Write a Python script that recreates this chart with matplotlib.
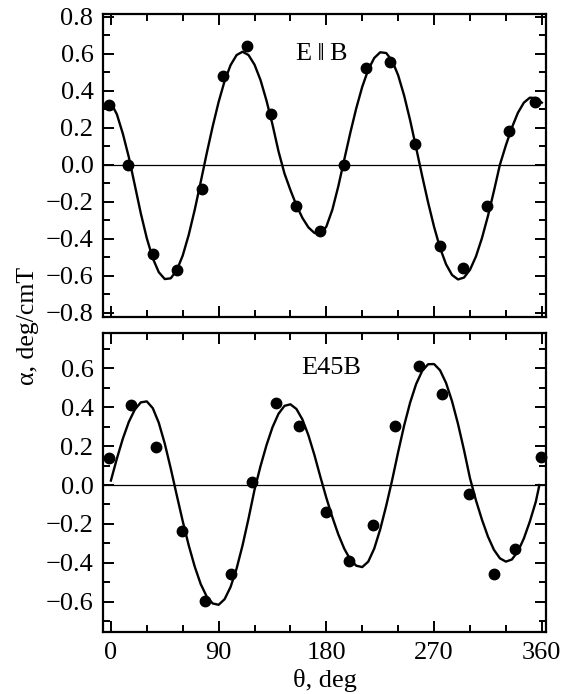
import numpy as np
import matplotlib
matplotlib.use('Agg')
from matplotlib import pyplot as plt
from matplotlib.ticker import MultipleLocator, FuncFormatter

plt.rcParams['font.family'] = ['Liberation Serif', 'DejaVu Serif']

# E||B : measured points
top_theta = [-2, 14.5, 35.5, 55, 76, 93.5, 114, 134, 155, 174.5, 195, 213, 233, 254, 275, 294, 314, 333, 354]
top_alpha = [0.32, 0.0, -0.48, -0.57, -0.13, 0.48, 0.64, 0.275, -0.225, -0.36, 0.0, 0.52, 0.555, 0.11,
             -0.44, -0.555, -0.22, 0.18, 0.34]

# E||B : fit curve, read every 5 deg
fit_theta = list(range(0, 361, 5))
top_fit = [0.335, 0.272, 0.167, 0.040, -0.111, -0.263, -0.397, -0.505, -0.580, -0.617,
           -0.613, -0.570, -0.490, -0.379, -0.244, -0.094, 0.060, 0.206, 0.339, 0.452,
           0.538, 0.592, 0.610, 0.592, 0.540, 0.457, 0.346, 0.217, 0.073, -0.047,
           -0.137, -0.219, -0.287, -0.338, -0.368, -0.374, -0.334, -0.243, -0.116, 0.029,
           0.172, 0.305, 0.421, 0.513, 0.576, 0.607, 0.603, 0.561, 0.483, 0.373,
           0.240, 0.092, -0.059, -0.203, -0.335, -0.449, -0.537, -0.595, -0.619, -0.609,
           -0.567, -0.495, -0.396, -0.277, -0.142, 0.0, 0.105, 0.200, 0.280, 0.335,
           0.362, 0.360, 0.335]

# E45B : measured points
bot_theta = [-2, 17, 38, 59, 79, 100, 118, 138, 157, 180, 199, 219, 237.5, 257, 277, 299, 320, 338, 359]
bot_alpha = [0.137, 0.411, 0.194, -0.236, -0.595, -0.458, 0.014, 0.423, 0.305, -0.14, -0.389, -0.206,
             0.305, 0.613, 0.468, -0.046, -0.458, -0.327, 0.146]

# E45B : fit curve, read every 5 deg (last point at 358)
bot_fit_theta = list(range(0, 356, 5)) + [358]
bot_fit = [0.023, 0.136, 0.239, 0.325, 0.388, 0.425, 0.430, 0.395, 0.320, 0.213,
           0.085, -0.052, -0.186, -0.310, -0.419, -0.509, -0.573, -0.609, -0.616, -0.587,
           -0.524, -0.430, -0.310, -0.172, -0.024, 0.097, 0.205, 0.297, 0.366, 0.407,
           0.415, 0.391, 0.337, 0.256, 0.155, 0.042, -0.066, -0.165, -0.254, -0.328,
           -0.383, -0.415, -0.422, -0.394, -0.327, -0.228, -0.107, 0.026, 0.170, 0.306,
           0.424, 0.519, 0.586, 0.621, 0.622, 0.590, 0.525, 0.431, 0.314, 0.180,
           0.035, -0.079, -0.178, -0.265, -0.333, -0.377, -0.394, -0.383, -0.342, -0.275,
           -0.188, -0.086, 0.0]

fig = plt.figure(figsize=(5.62, 6.94), dpi=100)
ax1 = fig.add_axes([0.1835, 0.5437, 0.7880, 0.4357])
ax2 = fig.add_axes([0.1835, 0.0893, 0.7880, 0.4304])

fmt = FuncFormatter(lambda v, p: f'{v:.1f}'.replace('-', '\u2212'))

for ax in (ax1, ax2):
    ax.axhline(0, color='black', lw=0.9, zorder=1)
    ax.set_xlim(-6.5, 363.5)
    ax.xaxis.set_major_locator(MultipleLocator(90))
    ax.xaxis.set_minor_locator(MultipleLocator(30))
    ax.yaxis.set_major_locator(MultipleLocator(0.2))
    ax.yaxis.set_minor_locator(MultipleLocator(0.1))
    ax.yaxis.set_major_formatter(fmt)
    ax.tick_params(which='both', direction='in', top=True, right=True, width=1.4, labelsize=19)
    ax.tick_params(which='major', length=8, pad=7)
    ax.tick_params(which='minor', length=5)
    for s in ax.spines.values():
        s.set_linewidth(1.6)

ax1.plot(fit_theta, top_fit, color='black', lw=1.7, zorder=2)
ax1.plot(top_theta, top_alpha, 'o', color='black', ms=7.5, zorder=3, clip_on=False)
ax1.set_ylim(-0.82, 0.812)
ax1.tick_params(labelbottom=False)
ax1.text(155, 0.60, 'E\u2009\u2016\u2009B', fontsize=19, va='center')

ax2.plot(bot_fit_theta, bot_fit, color='black', lw=1.7, zorder=2)
ax2.plot(bot_theta, bot_alpha, 'o', color='black', ms=7.5, zorder=3, clip_on=False)
ax2.set_ylim(-0.756, 0.78)
ax2.set_xticks([0, 90, 180, 270, 360])
ax2.text(159, 0.604, 'E45B', fontsize=19, va='center')

fig.text(0.579, 0.019, '\u03b8, deg', fontsize=19, va='center', ha='center')
fig.text(0.050, 0.530, '\u03b1, deg/cmT', rotation=90, fontsize=18.5, va='center', ha='center')

fig.savefig('out.png', dpi=100)
